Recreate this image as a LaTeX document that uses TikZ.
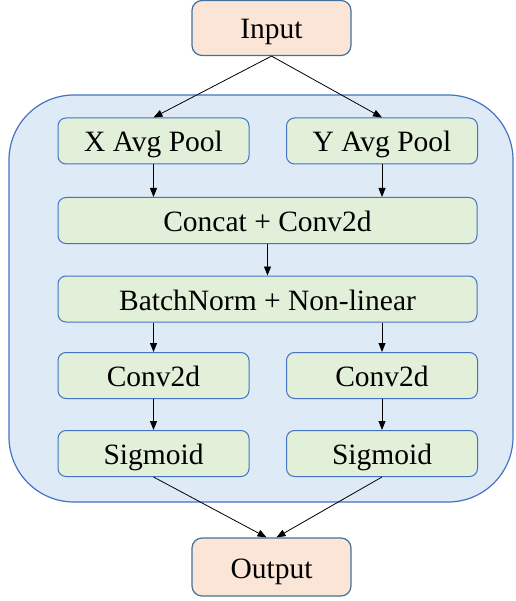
\documentclass[tikz,border=0pt]{standalone}
\usepackage{fontspec}
\setmainfont{Liberation Serif}
\newfontfamily\tnr{Liberation Serif}
\usetikzlibrary{arrows.meta}
\definecolor{peach}{HTML}{FBE5D6}
\definecolor{lgreen}{HTML}{E2F0D9}
\definecolor{lblue}{HTML}{DEEBF7}
\definecolor{bord}{HTML}{4472C4}
\definecolor{ioborder}{HTML}{41719C}
\begin{document}
\begin{tikzpicture}[x=1pt,y=-1pt,
  txt/.style={font=\tnr\fontsize{29.5}{34}\selectfont, text height=24pt, text depth=2pt},
  box/.style={txt, draw=bord, fill=lgreen, line width=1pt, rounded corners=8pt, minimum height=46pt, inner sep=0pt},
  narrow/.style={box, minimum width=191pt},
  wide/.style={box, minimum width=419pt},
  io/.style={txt, draw=ioborder, fill=peach, line width=1.2pt, rounded corners=10pt, minimum width=159pt, inner sep=0pt},
  container/.style={draw=bord, fill=lblue, line width=1.2pt, rounded corners=65pt, inner sep=0pt},
  arr/.style={-{Triangle[length=9pt,width=7pt]}, line width=0.8pt}]
\useasboundingbox (0,0) rectangle (515,601);
\node[container, minimum width=504pt, minimum height=407pt] (frame) at (261,298.5) {};
\node[io, minimum height=55pt] (in) at (271.5,28) {Input};
\node[io, minimum height=58pt] (out) at (271.5,567) {Output};
\node[narrow] (xp) at (153.5,141) {X Avg Pool};
\node[narrow] (yp) at (382,141) {Y Avg Pool};
\node[wide] (cat) at (267.5,220.5) {Concat + Conv2d};
\node[wide] (bn) at (267.5,299) {BatchNorm + Non-linear};
\node[narrow] (cl) at (153.5,375.5) {Conv2d};
\node[narrow] (cr) at (382,375.5) {Conv2d};
\node[narrow] (sl) at (153.5,453.5) {Sigmoid};
\node[narrow] (sr) at (382,453.5) {Sigmoid};
\coordinate (outl) at ([xshift=-5pt]out.north);
\coordinate (outr) at ([xshift=5pt]out.north);
\draw[arr] (in.south) -- (xp.north);
\draw[arr] (in.south) -- (yp.north);
\draw[arr] (xp.south) -- (xp.south |- cat.north);
\draw[arr] (yp.south) -- (yp.south |- cat.north);
\draw[arr] (cat.south) -- (bn.north);
\draw[arr] (cl.north |- bn.south) -- (cl.north);
\draw[arr] (cr.north |- bn.south) -- (cr.north);
\draw[arr] (cl.south) -- (sl.north);
\draw[arr] (cr.south) -- (sr.north);
\draw[arr] (sl.south) -- (outl);
\draw[arr] (sr.south) -- (outr);
\end{tikzpicture}
\end{document}
